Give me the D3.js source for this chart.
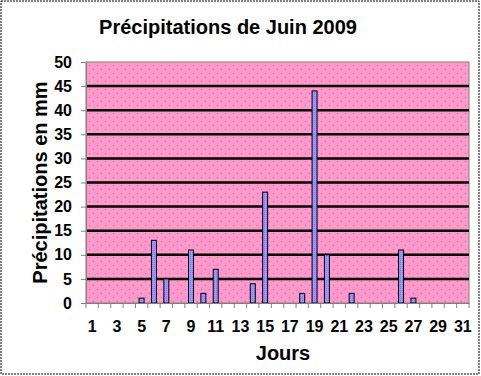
<!DOCTYPE html>
<html>
<head>
<meta charset="utf-8">
<script src="https://cdn.jsdelivr.net/npm/d3@7"></script>
<style>
body { margin: 0; background: #fff; }
svg { display: block; font-family: Arial, "Liberation Sans", sans-serif; }
</style>
</head>
<body>
<div id="chart"></div>
<script>
var width = 481;
var height = 376;
var margin = { top: 62, right: 12, bottom: 73, left: 86 };
var days = d3.range(1, 32);
var rain = [0, 0, 0, 0, 1, 13, 5, 0, 11, 2, 7, 0, 0, 4, 23, 0, 0, 2, 44, 10, 0, 2, 0, 0, 0, 11, 1, 0, 0, 0, 0];
var yTicks = [0, 5, 10, 15, 20, 25, 30, 35, 40, 45, 50];
var title = "Précipitations de Juin 2009";
var yTitle = "Précipitations en mm";
var xTitle = "Jours";

var svg = d3.select("#chart").append("svg")
    .attr("width", width)
    .attr("height", height);

var defs = svg.append("defs");
var pinkPat = defs.append("pattern")
    .attr("id", "pinkDots")
    .attr("patternUnits", "userSpaceOnUse")
    .attr("width", 8).attr("height", 8);
pinkPat.append("rect").attr("width", 8).attr("height", 8).attr("fill", "#ff99cc");
pinkPat.append("rect").attr("x", 1).attr("y", 1).attr("width", 1).attr("height", 1).attr("fill", "#e8609a");
pinkPat.append("rect").attr("x", 5).attr("y", 5).attr("width", 1).attr("height", 1).attr("fill", "#e8609a");

var barPat = defs.append("pattern")
    .attr("id", "barDots")
    .attr("patternUnits", "userSpaceOnUse")
    .attr("width", 2).attr("height", 2);
barPat.append("rect").attr("width", 2).attr("height", 2).attr("fill", "#9999ff");
barPat.append("rect").attr("width", 1).attr("height", 1).attr("fill", "#7f7fe8");

// outer border
svg.append("rect")
    .attr("x", 1).attr("y", 1)
    .attr("width", width - 3).attr("height", height - 3)
    .attr("fill", "none")
    .attr("stroke", "#000")
    .attr("stroke-width", 1)
    .attr("stroke-dasharray", "2,1");

var x = d3.scaleBand()
    .domain(days)
    .range([margin.left, width - margin.right])
    .paddingInner(0.6)
    .paddingOuter(0.3);
var xLin = d3.scaleLinear()
    .domain([0, days.length])
    .range([margin.left, width - margin.right]);
var y = d3.scaleLinear()
    .domain([0, 50])
    .range([height - margin.bottom, margin.top]);

var plotW = width - margin.right - margin.left;
var plotH = height - margin.bottom - margin.top;

svg.append("rect")
    .attr("x", margin.left).attr("y", margin.top)
    .attr("width", plotW).attr("height", plotH)
    .attr("fill", "url(#pinkDots)")
    .attr("stroke", "#808080")
    .attr("stroke-width", 1);

// grid lines
svg.selectAll(".grid")
    .data(yTicks.filter(function (d) { return d > 0 && d < 50; }))
    .enter().append("line")
    .attr("x1", margin.left).attr("x2", width - margin.right)
    .attr("y1", function (d) { return y(d); })
    .attr("y2", function (d) { return y(d); })
    .attr("stroke", "#000")
    .attr("stroke-width", 2.5);

// bars
var bw = 5;
svg.selectAll(".bar")
    .data(days.filter(function (d, i) { return rain[i] > 0; }))
    .enter().append("rect")
    .attr("x", function (d) { return x(d) + x.bandwidth() / 2 - bw / 2; })
    .attr("y", function (d) { return y(rain[d - 1]); })
    .attr("width", bw)
    .attr("height", function (d) { return y(0) - y(rain[d - 1]); })
    .attr("fill", "url(#barDots)")
    .attr("stroke", "#000")
    .attr("stroke-width", 1);

// y axis
var yAxis = svg.append("g")
    .attr("transform", "translate(" + margin.left + ",0)")
    .call(d3.axisLeft(y).tickValues(yTicks).tickSize(5).tickPadding(9));
yAxis.select(".domain").attr("stroke", "#808080");
yAxis.selectAll(".tick line").attr("stroke", "#808080");
yAxis.selectAll("text")
    .attr("font-size", 16)
    .attr("font-weight", "bold")
    .attr("font-family", "Arial, 'Liberation Sans', sans-serif")
    .attr("fill", "#000");

// x axis
var xAxis = svg.append("g")
    .attr("transform", "translate(0," + (height - margin.bottom) + ")")
    .call(d3.axisBottom(x)
        .tickSize(0)
        .tickPadding(18)
        .tickFormat(function (d) { return d % 2 === 1 ? d : ""; }));
xAxis.select(".domain").attr("stroke", "#808080");
xAxis.selectAll("text")
    .attr("font-size", 16)
    .attr("font-weight", "bold")
    .attr("font-family", "Arial, 'Liberation Sans', sans-serif")
    .attr("fill", "#000");
svg.append("g").selectAll("line")
    .data(d3.range(0, days.length + 1))
    .enter().append("line")
    .attr("x1", function (d) { return xLin(d); })
    .attr("x2", function (d) { return xLin(d); })
    .attr("y1", height - margin.bottom)
    .attr("y2", height - margin.bottom + 5)
    .attr("stroke", "#808080");

// titles
svg.append("text")
    .attr("x", 228).attr("y", 34)
    .attr("text-anchor", "middle")
    .attr("font-size", 20)
    .attr("font-weight", "bold")
    .text(title);

svg.append("text")
    .attr("transform", "translate(47," + (margin.top + plotH / 2) + ") rotate(-90)")
    .attr("text-anchor", "middle")
    .attr("font-size", 20)
    .attr("font-weight", "bold")
    .text(yTitle);

svg.append("text")
    .attr("x", 283).attr("y", 360)
    .attr("text-anchor", "middle")
    .attr("font-size", 20)
    .attr("font-weight", "bold")
    .text(xTitle);
</script>
</body>
</html>
